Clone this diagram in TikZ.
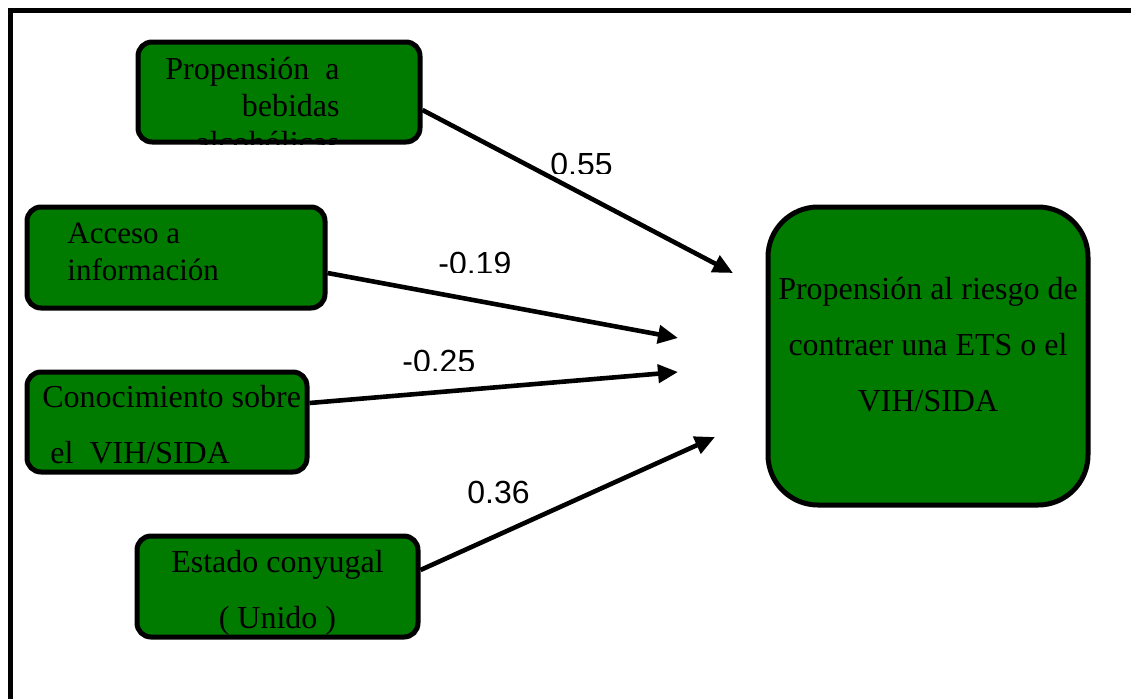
\documentclass[tikz,border=0pt]{standalone}
\usepackage{fontspec}
\setmainfont{Liberation Serif}
\newfontfamily\arialfont{Liberation Sans}
\usetikzlibrary{arrows.meta}
\definecolor{verde}{RGB}{0,123,0}
\tikzset{
  caja/.style={draw=black, line width=2.5pt, fill=verde, rounded corners=7pt, inner sep=0pt},
  txt/.style={font=\fontsize{15.5}{18.5}\selectfont, inner sep=0pt},
  txtancho/.style={font=\fontsize{16}{28}\selectfont, inner sep=0pt},
  coef/.style={font=\arialfont\fontsize{16}{18}\selectfont, inner sep=0pt},
  flecha/.style={line width=2.3pt, -{Triangle[length=10pt,width=9pt]}}
}
\begin{document}
\begin{tikzpicture}[x=0.5pt,y=-0.5pt]
\useasboundingbox (0,0) rectangle (1131,698);
% marco
\draw[line width=2.5pt] (10,710) -- (10,10) -- (1140,10);

% cajas
\node[caja, minimum width=141pt, minimum height=50pt] (bebidas) at (279,92) {};
\node[caja, minimum width=149pt, minimum height=50.5pt] (acceso) at (176,257.5) {};
\node[caja, minimum width=140pt, minimum height=50pt] (conoc) at (167,422) {};
\node[caja, minimum width=140.5pt, minimum height=50.5pt] (conyugal) at (277.5,586.5) {};
\node[caja, rounded corners=25pt, minimum width=160pt, minimum height=149pt] (riesgo) at (928,356) {};

% textos
\begin{scope}
\clip (bebidas.south west) rectangle (bebidas.north east);
\node[txt, font=\fontsize{16}{18.5}\selectfont, anchor=base east, align=right] (tbebidas) at (340,153) {Propensión\ \ a\\bebidas\\alcohólicas};
\end{scope}
\node[txt, anchor=base west, align=left] (tacceso) at (67,280) {Acceso a\\información};
\node[txtancho, anchor=base west, align=left] (tconoc) at (42,463) {Conocimiento sobre\\\ el\ \ VIH/SIDA};
\node[txtancho, anchor=base, align=center] (tconyugal) at (277.5,628) {Estado conyugal\\( Unido )};
\node[txtancho, anchor=base, align=center] (triesgo) at (928,411) {Propensión al riesgo de\\contraer una ETS o el\\VIH/SIDA};

% flechas
\coordinate (p1) at (733,273);
\coordinate (p2) at (678,338);
\coordinate (p3) at (678,372);
\coordinate (p4) at (715,437);
\draw[flecha] ([yshift=-9pt]bebidas.east) -- (p1);
\draw[flecha] ([yshift=-7.75pt]acceso.east) -- (p2);
\draw[flecha] ([yshift=9.5pt]conoc.east) -- (p3);
\draw[flecha] ([yshift=8.25pt]conyugal.east) -- (p4);

% coeficientes
\begin{scope}
\clip (540,140) rectangle (640,173);
\node[coef, anchor=base west] (c1) at (550,175) {0.55};
\end{scope}
\begin{scope}
\clip (430,240) rectangle (530,272);
\node[coef, anchor=base west] (c2) at (438,274) {-0.19};
\end{scope}
\begin{scope}
\clip (395,340) rectangle (495,370);
\node[coef, anchor=base west] (c3) at (402,372) {-0.25};
\end{scope}
\node[coef, anchor=base west] (c4) at (467,503) {0.36};
\end{tikzpicture}
\end{document}
